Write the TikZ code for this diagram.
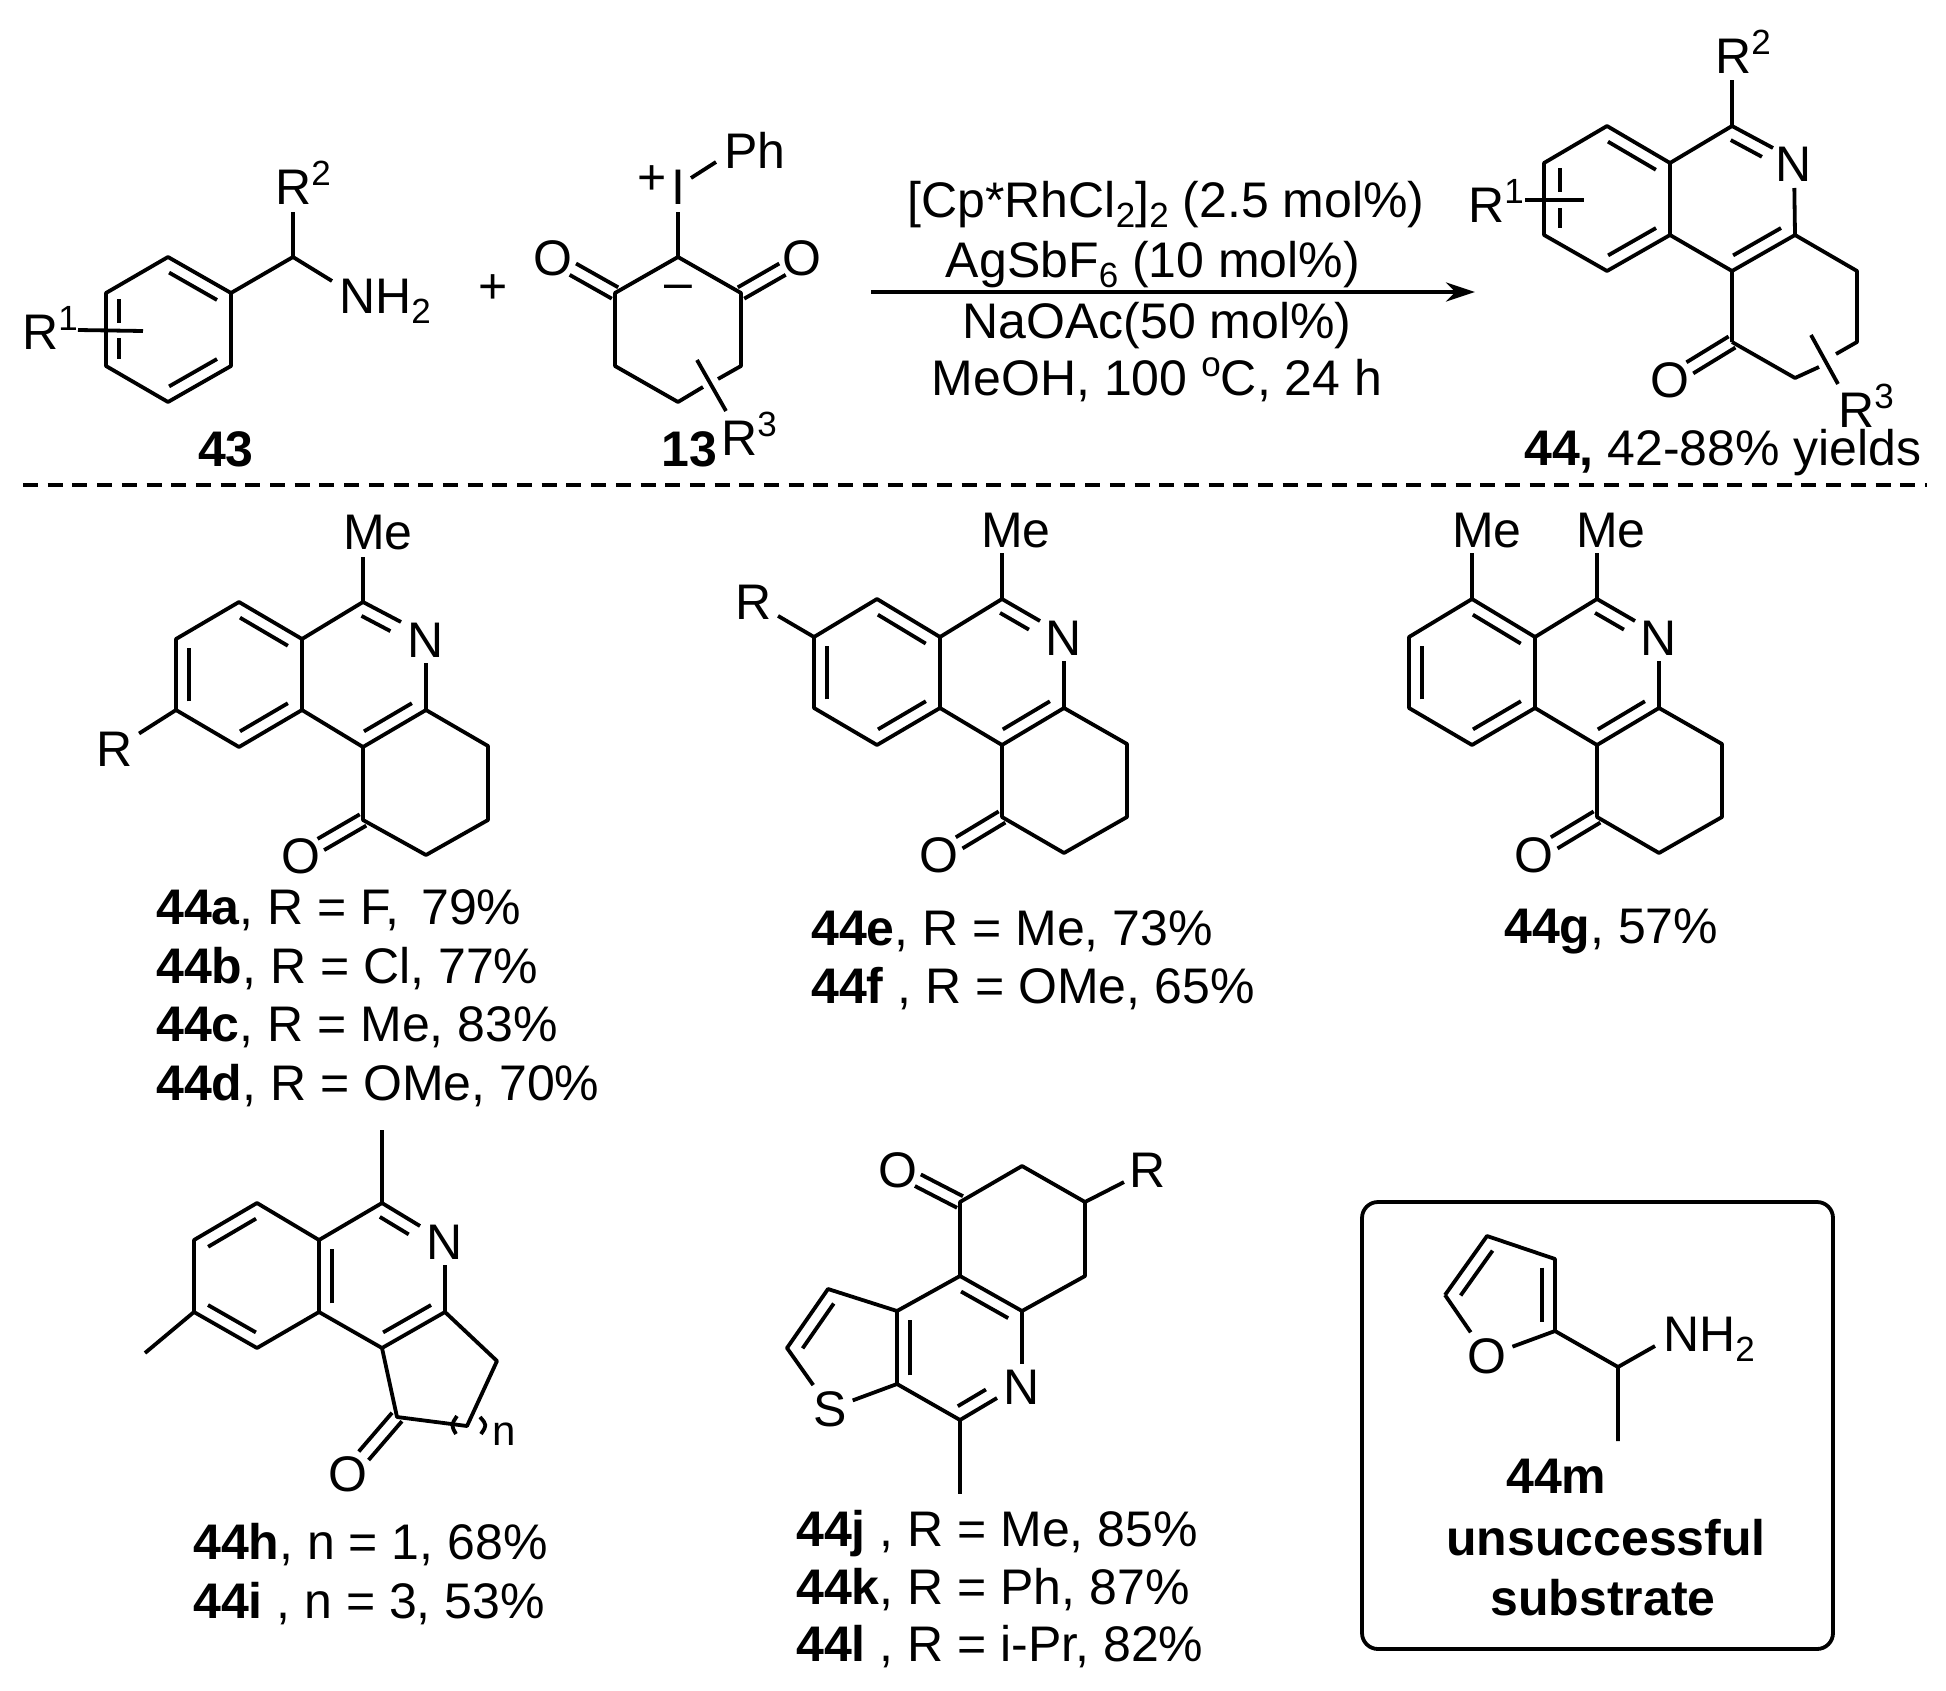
\documentclass[tikz,border=0pt]{standalone}
\usepackage{fontspec}
\setmainfont{Liberation Sans}
\usetikzlibrary{arrows.meta,calc}
\tikzset{
  lbl/.style={inner sep=0pt, font=\fontsize{50}{58}\selectfont},
  atom/.style={lbl, outer sep=6pt},
  smalln/.style={inner sep=0pt, font=\fontsize{42}{48}\selectfont},
  bond/.style={line width=3.8pt, line join=round},
  reaction/.style={line width=4.2pt, -{Stealth[length=29pt,width=19pt]}},
  dashsep/.style={line width=3.6pt, dash pattern=on 15pt off 9.7pt},
  resultbox/.style={draw, line width=3.8pt, rounded corners=16pt, minimum width=471pt, minimum height=447pt}
}
\newcommand{\upr}[1]{\raisebox{19pt}{\fontsize{35}{35}\selectfont #1}}
\newcommand{\lowr}[1]{\raisebox{-10pt}{\fontsize{35}{35}\selectfont #1}}
\newcommand{\innerbond}[3]{\draw[bond] ($(#1)!0.12!(#2)!#3!-90:(#2)$) -- ($(#2)!0.12!(#1)!#3!90:(#1)$);}
\newcommand{\carbonyl}[2]{
  \draw[bond] ($(#1)!6.5pt!90:(#2)$) -- ($(#1)!0.68!(#2)!6.5pt!90:(#2)$);
  \draw[bond] ($(#1)!6.5pt!-90:(#2)$) -- ($(#1)!0.68!(#2)!6.5pt!-90:(#2)$);
}
\begin{document}
\begin{tikzpicture}[x=1pt,y=-1pt]
    \useasboundingbox (0,0) rectangle (1946,1691);
    % --------------------- reactant 43
    \coordinate (b1) at (168,257); \coordinate (b2) at (231,293);
    \coordinate (b3) at (231,366); \coordinate (b4) at (168,402);
    \coordinate (b5) at (106,366); \coordinate (b6) at (106,293);
    \coordinate (b7) at (293,257); \coordinate (b8) at (293,212);
    \coordinate (b9) at (78,330);  \coordinate (b10) at (143,331);
    \coordinate (b11) at (119,299); \coordinate (b12) at (119,323);
    \coordinate (b13) at (119,338); \coordinate (b14) at (119,359);
    \coordinate (b15) at (332,281);
    \node[lbl, anchor=base west] (bR1) at (22,349) {R\upr{1}};
    \node[lbl, anchor=base west] (bR2) at (275,204) {R\upr{2}};
    \node[lbl, anchor=base west] (bNH) at (339,313) {NH\lowr{2}};
    \node[lbl, anchor=base] (lab43) at (226,466) {\textbf{43}};
    \node[lbl] (plus) at (493,289) {+};
    \draw[bond] (b1) -- (b2) -- (b3) -- (b4) -- (b5) -- (b6) -- cycle;
    \draw[bond] (b2) -- (b7) -- (b8);
    \draw[bond] (b7) -- (b15);
    \draw[bond] (b9) -- (b10);
    \draw[bond] (b11) -- (b12);
    \draw[bond] (b13) -- (b14);
    \innerbond{b1}{b2}{13pt}
    \innerbond{b3}{b4}{13pt}
    % --------------------- reactant 13
    \coordinate (c1) at (678,257); \coordinate (c2) at (741,293);
    \coordinate (c3) at (741,366); \coordinate (c4) at (678,402);
    \coordinate (c5) at (615,366); \coordinate (c6) at (615,293);
    \coordinate (c7) at (678,212); \coordinate (c8) at (697,360);
    \coordinate (c9) at (726,411); \coordinate (c10) at (718,379);
    \coordinate (c11) at (703,387);
    \coordinate (c12) at (691,178); \coordinate (c13) at (716,162);
    \node[lbl] (cplus) at (652,180) {+};
    \node[lbl, anchor=base] (cI) at (678,204) {I};
    \node[lbl, anchor=base west] (cPh) at (724,168) {Ph};
    \node[lbl] (cO1) at (553,258) {O};
    \node[lbl] (cO2) at (802,258) {O};
    \node[lbl] (cminus) at (678,292) {–};
    \node[lbl, anchor=base west] (cR3) at (721,455) {R\upr{3}};
    \node[lbl, anchor=base] (lab13) at (689,466) {\textbf{13}};
    \draw[bond] (c10) -- (c3) -- (c2) -- (c1) -- (c6) -- (c5) -- (c4) -- (c11);
    \draw[bond] (c1) -- (c7);
    \draw[bond] (c12) -- (c13);
    \draw[bond] (c8) -- (c9);
    \carbonyl{c6}{cO1}
    \carbonyl{c2}{cO2}
    % --------------------- arrow and conditions
    \coordinate (arr1) at (871,292); \coordinate (arr2) at (1475,292);
    \draw[reaction] (arr1) -- (arr2);
    \node[lbl, anchor=base] (cond1) at (1166,217) {[Cp*RhCl\lowr{2}]\lowr{2} (2.5 mol\%)};
    \node[lbl, anchor=base] (cond2) at (1153,277) {AgSbF\lowr{6} (10 mol\%)};
    \node[lbl, anchor=base] (cond3) at (1157,338) {NaOAc(50 mol\%)};
    \node[lbl, anchor=base] (cond4) at (1157,395) {MeOH, 100 \upr{o}C, 24 h};
    % --------------------- product 44
    \coordinate (p1) at (1732,126); \coordinate (p2) at (1670,163);
    \coordinate (p3) at (1670,235); \coordinate (p4) at (1607,126);
    \coordinate (p5) at (1544,163); \coordinate (p6) at (1544,235);
    \coordinate (p7) at (1607,271); \coordinate (p8) at (1732,271);
    \coordinate (p9) at (1795,235); \coordinate (p10) at (1857,271);
    \coordinate (p11) at (1857,342); \coordinate (p12) at (1795,378);
    \coordinate (p13) at (1732,342); \coordinate (pn) at (1773,148);
    \coordinate (pt) at (1732,80);
    \coordinate (pg1) at (1836,354); \coordinate (pg2) at (1819,367);
    \coordinate (pc1) at (1811,335); \coordinate (pc2) at (1838,384);
    \coordinate (pd1) at (1525,200); \coordinate (pd2) at (1584,200);
    \coordinate (pe1) at (1560,168); \coordinate (pe2) at (1560,192);
    \coordinate (pe3) at (1560,208); \coordinate (pe4) at (1560,228);
    \node[atom, anchor=base] (pN) at (1794,182) {N};
    \node[lbl] (pO) at (1670,380) {O};
    \node[lbl, anchor=base west] (pR1) at (1468,222) {R\upr{1}};
    \node[lbl, anchor=base west] (pR2) at (1715,74) {R\upr{2}};
    \node[lbl, anchor=base west] (pR3) at (1838,427) {R\upr{3}};
    \node[lbl, anchor=base west] (lab44) at (1524,465) {\textbf{44,} 42-88\% yields};
    \draw[bond] (p8) -- (p3) -- (p2) -- (p4) -- (p5) -- (p6) -- (p7) -- (p3);
    \draw[bond] (p2) -- (p1) -- (pn);
    \draw[bond] (p1) -- (pt);
    \draw[bond] (pN) -- (p9) -- (p8) -- (p13);
    \draw[bond] (p9) -- (p10) -- (p11) -- (pg1);
    \draw[bond] (pg2) -- (p12) -- (p13);
    \draw[bond] (pc1) -- (pc2);
    \draw[bond] (pd1) -- (pd2);
    \draw[bond] (pe1) -- (pe2);
    \draw[bond] (pe3) -- (pe4);
    \innerbond{p4}{p2}{13pt}
    \innerbond{p3}{p7}{13pt}
    \innerbond{p1}{pn}{13pt}
    \innerbond{p9}{p8}{13pt}
    \carbonyl{p13}{pO}
    % --------------------- separator
    \coordinate (sep1) at (23,485); \coordinate (sep2) at (1927,485);
    \draw[dashsep] (sep1) -- (sep2);
    % --------------------- 44a-d
    \coordinate (a1) at (363,602); \coordinate (a2) at (302,639);
    \coordinate (a3) at (302,710); \coordinate (a4) at (239,602);
    \coordinate (a5) at (176,639); \coordinate (a6) at (176,710);
    \coordinate (a7) at (239,747); \coordinate (a8) at (363,747);
    \coordinate (a9) at (426,710); \coordinate (a10) at (488,746);
    \coordinate (a11) at (488,820); \coordinate (a12) at (426,855);
    \coordinate (a13) at (363,820); \coordinate (an) at (401,622);
    \coordinate (at) at (363,557);
    \node[lbl, anchor=base] (aMe) at (378,549) {Me};
    \node[atom, anchor=base] (aN) at (426,657) {N};
    \node[lbl] (aO) at (301,856) {O};
    \node[atom, anchor=base] (aR) at (115,766) {R};
    \node[lbl, anchor=base west] (lab44a) at (156,924) {\textbf{44a}, R = F,\hspace{8pt} 79\%};
    \node[lbl, anchor=base west] (lab44b) at (156,983) {\textbf{44b}, R = Cl, 77\%};
    \node[lbl, anchor=base west] (lab44c) at (156,1041) {\textbf{44c}, R = Me, 83\%};
    \node[lbl, anchor=base west] (lab44d) at (156,1100) {\textbf{44d}, R = OMe, 70\%};
    \draw[bond] (a3) -- (a2) -- (a4) -- (a5) -- (a6) -- (a7) -- (a3) -- (a8) -- (a9) -- (aN);
    \draw[bond] (a2) -- (a1) -- (an);
    \draw[bond] (a1) -- (at);
    \draw[bond] (a8) -- (a13) -- (a12) -- (a11) -- (a10) -- (a9);
    \draw[bond] (a6) -- (aR);
    \innerbond{a4}{a2}{13pt}
    \innerbond{a3}{a7}{13pt}
    \innerbond{a6}{a5}{13pt}
    \innerbond{a1}{an}{13pt}
    \innerbond{a9}{a8}{13pt}
    \carbonyl{a13}{aO}
    % --------------------- 44e-f
    \coordinate (e1) at (1002,599); \coordinate (e2) at (940,637);
    \coordinate (e3) at (940,708); \coordinate (e4) at (877,599);
    \coordinate (e5) at (814,637); \coordinate (e6) at (814,708);
    \coordinate (e7) at (877,745); \coordinate (e8) at (1002,745);
    \coordinate (e9) at (1064,708); \coordinate (e10) at (1127,744);
    \coordinate (e11) at (1127,817); \coordinate (e12) at (1064,853);
    \coordinate (e13) at (1002,817); \coordinate (en) at (1040,621);
    \coordinate (et) at (1002,553);
    \node[lbl, anchor=base] (eMe) at (1016,547) {Me};
    \node[atom, anchor=base] (eN) at (1064,655) {N};
    \node[lbl] (eO) at (939,855) {O};
    \node[atom, anchor=base] (eR) at (754,619) {R};
    \node[lbl, anchor=base west] (lab44e) at (811,945) {\textbf{44e}, R = Me, 73\%};
    \node[lbl, anchor=base west] (lab44f) at (811,1003) {\textbf{44f} , R = OMe, 65\%};
    \draw[bond] (e3) -- (e2) -- (e4) -- (e5) -- (e6) -- (e7) -- (e3) -- (e8) -- (e9) -- (eN);
    \draw[bond] (e2) -- (e1) -- (en);
    \draw[bond] (e1) -- (et);
    \draw[bond] (e8) -- (e13) -- (e12) -- (e11) -- (e10) -- (e9);
    \draw[bond] (e5) -- (eR);
    \innerbond{e4}{e2}{13pt}
    \innerbond{e3}{e7}{13pt}
    \innerbond{e6}{e5}{13pt}
    \innerbond{e1}{en}{13pt}
    \innerbond{e9}{e8}{13pt}
    \carbonyl{e13}{eO}
    % --------------------- 44g
    \coordinate (g1) at (1597,599); \coordinate (g2) at (1535,637);
    \coordinate (g3) at (1535,708); \coordinate (g4) at (1472,599);
    \coordinate (g5) at (1409,637); \coordinate (g6) at (1409,708);
    \coordinate (g7) at (1472,745); \coordinate (g8) at (1597,745);
    \coordinate (g9) at (1659,708); \coordinate (g10) at (1722,744);
    \coordinate (g11) at (1722,817); \coordinate (g12) at (1659,853);
    \coordinate (g13) at (1597,817); \coordinate (gn) at (1635,621);
    \coordinate (gt) at (1597,553); \coordinate (gu) at (1472,553);
    \node[lbl, anchor=base] (gMe1) at (1611,547) {Me};
    \node[lbl, anchor=base] (gMe2) at (1487,547) {Me};
    \node[atom, anchor=base] (gN) at (1659,655) {N};
    \node[lbl] (gO) at (1534,855) {O};
    \node[lbl, anchor=base west] (lab44g) at (1504,943) {\textbf{44g}, 57\%};
    \draw[bond] (g3) -- (g2) -- (g4) -- (g5) -- (g6) -- (g7) -- (g3) -- (g8) -- (g9) -- (gN);
    \draw[bond] (g2) -- (g1) -- (gn);
    \draw[bond] (g1) -- (gt);
    \draw[bond] (g4) -- (gu);
    \draw[bond] (g8) -- (g13) -- (g12) -- (g11) -- (g10) -- (g9);
    \innerbond{g4}{g2}{13pt}
    \innerbond{g3}{g7}{13pt}
    \innerbond{g6}{g5}{13pt}
    \innerbond{g1}{gn}{13pt}
    \innerbond{g9}{g8}{13pt}
    \carbonyl{g13}{gO}
    % --------------------- 44h-i
    \coordinate (h1) at (382,1203); \coordinate (h2) at (319,1240);
    \coordinate (h3) at (319,1312); \coordinate (h4) at (257,1203);
    \coordinate (h5) at (194,1240); \coordinate (h6) at (194,1312);
    \coordinate (h7) at (257,1348); \coordinate (h8) at (382,1348);
    \coordinate (h9) at (445,1312); \coordinate (h10) at (497,1361);
    \coordinate (h11) at (467,1426); \coordinate (h12) at (397,1417);
    \coordinate (hn) at (420,1226); \coordinate (ht) at (382,1130);
    \coordinate (hu) at (145,1353);
    \coordinate (hl1) at (457,1416); \coordinate (hl2) at (451,1425); \coordinate (hl3) at (456,1434);
    \coordinate (hr1) at (480,1417); \coordinate (hr2) at (487,1425); \coordinate (hr3) at (481,1434);
    \node[atom, anchor=base] (hN) at (445,1259) {N};
    \node[lbl] (hO) at (348,1474) {O};
    \node[smalln, anchor=base west] (hsub) at (492,1445) {n};
    \node[lbl, anchor=base west] (lab44h) at (193,1559) {\textbf{44h}, n = 1, 68\%};
    \node[lbl, anchor=base west] (lab44i) at (193,1618) {\textbf{44i} , n = 3, 53\%};
    \draw[bond] (h3) -- (h2) -- (h4) -- (h5) -- (h6) -- (h7) -- (h3) -- (h8) -- (h9) -- (hN);
    \draw[bond] (h2) -- (h1) -- (hn);
    \draw[bond] (h1) -- (ht);
    \draw[bond] (h6) -- (hu);
    \draw[bond] (h8) -- (h12) -- (h11) -- (h10) -- (h9);
    \draw[bond] (hl1) .. controls (hl2) .. (hl3);
    \draw[bond] (hr1) .. controls (hr2) .. (hr3);
    \innerbond{h5}{h4}{13pt}
    \innerbond{h3}{h2}{13pt}
    \innerbond{h7}{h6}{13pt}
    \innerbond{h1}{hn}{13pt}
    \innerbond{h9}{h8}{13pt}
    \carbonyl{h12}{hO}
    % --------------------- 44j-l
    \coordinate (j1) at (960,1202); \coordinate (j2) at (1022,1166);
    \coordinate (j3) at (1085,1202); \coordinate (j4) at (1085,1276);
    \coordinate (j5) at (1022,1311); \coordinate (j6) at (960,1276);
    \coordinate (j7) at (897,1311); \coordinate (j8) at (897,1384);
    \coordinate (j9) at (960,1420); \coordinate (j10) at (828,1289);
    \coordinate (j11) at (787,1348); \coordinate (jt) at (960,1494);
    \coordinate (jn) at (997,1398);
    \node[atom, anchor=base] (jN) at (1022,1404) {N};
    \node[atom, anchor=base] (jS) at (830,1426) {S};
    \node[lbl] (jO) at (898,1170) {O};
    \node[atom, anchor=base] (jR) at (1148,1187) {R};
    \node[lbl, anchor=base west] (lab44j) at (796,1546) {\textbf{44j} , R = Me, 85\%};
    \node[lbl, anchor=base west] (lab44k) at (796,1604) {\textbf{44k}, R = Ph, 87\%};
    \node[lbl, anchor=base west] (lab44l) at (796,1661) {\textbf{44l} , R = i-Pr, 82\%};
    \draw[bond] (j1) -- (j2) -- (j3) -- (j4) -- (j5) -- (j6) -- cycle;
    \draw[bond] (j5) -- (jN);
    \draw[bond] (j3) -- (jR);
    \draw[bond] (j6) -- (j7) -- (j8) -- (j9) -- (jn);
    \draw[bond] (j9) -- (jt);
    \draw[bond] (j7) -- (j10) -- (j11) -- (jS) -- (j8);
    \innerbond{j6}{j5}{13pt}
    \innerbond{jn}{j9}{13pt}
    \innerbond{j8}{j7}{13pt}
    \innerbond{j11}{j10}{13pt}
    \carbonyl{j1}{jO}
    % --------------------- 44m
    \node[resultbox] (box) at (1597.5,1425.5) {};
    \coordinate (m1) at (1487,1236); \coordinate (m2) at (1555,1259);
    \coordinate (m3) at (1555,1331); \coordinate (m5) at (1445,1295);
    \coordinate (m6) at (1618,1367); \coordinate (mt) at (1618,1441);
    \coordinate (m7) at (1655,1346);
    \node[atom] (mO) at (1487,1356) {O};
    \node[lbl, anchor=base west] (mNH) at (1663,1351) {NH\lowr{2}};
    \node[lbl, anchor=base west] (lab44m) at (1506,1493) {\textbf{44m}};
    \node[lbl, anchor=base west] (labuns) at (1446,1555) {\textbf{unsuccessful}};
    \node[lbl, anchor=base] (labsub) at (1603,1615) {\textbf{substrate}};
    \draw[bond] (m5) -- (m1) -- (m2) -- (m3) -- (mO) -- (m5);
    \draw[bond] (m3) -- (m6) -- (mt);
    \draw[bond] (m6) -- (m7);
    \innerbond{m2}{m3}{13pt}
    \innerbond{m5}{m1}{13pt}
\end{tikzpicture}
\end{document}
